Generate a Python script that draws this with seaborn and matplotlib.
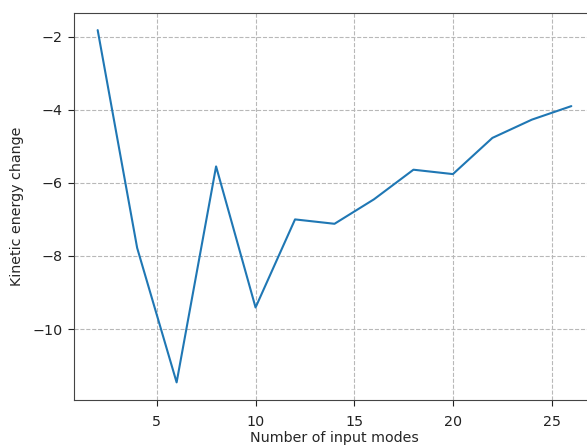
import matplotlib
matplotlib.use("Agg")
import matplotlib.pyplot as plt
import seaborn as sns
import pandas as pd

# Kinetic energy change versus number of input modes
input_modes = [2, 4, 6, 8, 10, 12, 14, 16, 18, 20, 22, 24, 26]
energy_change = [-1.82, -7.78, -11.46, -5.55, -9.41, -7.00, -7.12,
                 -6.45, -5.64, -5.76, -4.77, -4.27, -3.90]

df = pd.DataFrame({"modes": input_modes, "energy": energy_change})

sns.set_style("ticks", {
    "axes.edgecolor": "#444444",
    "axes.linewidth": 1.0,
})
plt.rcParams["font.family"] = ["DejaVu Sans"]

fig = plt.figure(figsize=(5.87, 4.46), dpi=100)
ax = fig.add_axes([74 / 587, 46 / 446, 521 / 587, 387.5 / 446])

sns.lineplot(data=df, x="modes", y="energy", ax=ax, color="#1f77b4",
             linewidth=1.5)

ax.grid(True, linestyle="--", color="#b8b8b8", linewidth=0.8)
ax.set_xticks([5, 10, 15, 20, 25])
ax.set_yticks([-10, -8, -6, -4, -2])
ax.tick_params(labelsize=10.3, colors="#222222", direction="out", length=4.5)
ax.tick_params(axis="x", pad=6)
ax.set_xlabel("Number of input modes", fontsize=10.3, labelpad=2)
ax.set_ylabel("Kinetic energy change", fontsize=10.3, labelpad=6)

fig.savefig("out.png", dpi=100)
